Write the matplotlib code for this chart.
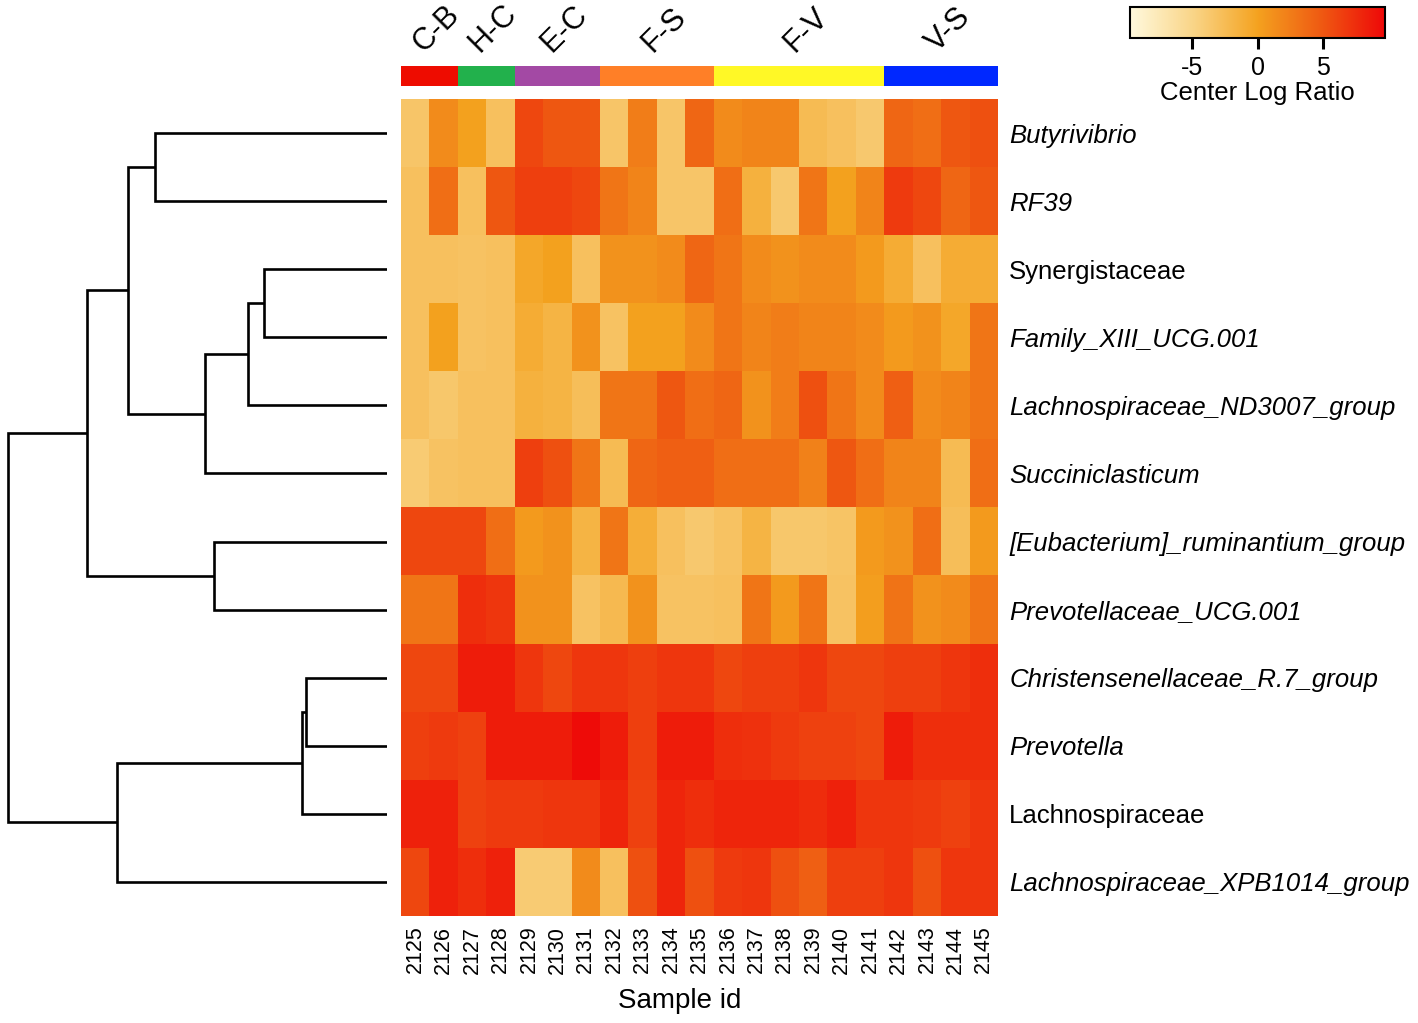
import numpy as np
import matplotlib
matplotlib.use("Agg")
import matplotlib.pyplot as plt
from matplotlib.colors import LinearSegmentedColormap
from matplotlib.transforms import blended_transform_factory

plt.rcParams['font.family'] = ['Liberation Sans', 'DejaVu Sans']
plt.rcParams['axes.unicode_minus'] = False

samples = [str(s) for s in range(2125, 2146)]
taxa = ['Butyrivibrio', 'RF39', 'Synergistaceae', 'Family_XIII_UCG.001',
        'Lachnospiraceae_ND3007_group', 'Succiniclasticum',
        '[Eubacterium]_ruminantium_group', 'Prevotellaceae_UCG.001',
        'Christensenellaceae_R.7_group', 'Prevotella', 'Lachnospiraceae',
        'Lachnospiraceae_XPB1014_group']
italic = [True, True, False, True, True, True, True, True, True, True, False, True]

groups = ['C-B', 'H-C', 'E-C', 'F-S', 'F-V', 'V-S']
group_sizes = [2, 2, 3, 4, 6, 4]
group_colors = ['#EE0C00', '#22B14C', '#A349A4', '#FF7F27', '#FFF826', '#0028FF']

clr = np.array([
    [-3.5, 1.5, 0.0, -3.0, 6.0, 5.0, 5.0, -3.5, 2.5, -3.5, 4.0, 1.5, 2.0, 2.0, -2.5, -3.0, -3.8, 4.0, 3.5, 5.0, 5.5],
    [-3.0, 3.5, -3.0, 5.0, 6.5, 6.5, 6.0, 3.0, 2.0, -3.5, -3.5, 3.5, -1.5, -3.8, 3.0, 0.0, 2.0, 6.8, 6.0, 4.0, 5.0],
    [-3.0, -3.0, -3.2, -3.0, -0.5, 0.0, -3.0, 1.0, 1.0, 1.5, 4.0, 3.0, 1.5, 1.0, 1.5, 1.5, 0.5, -1.0, -3.0, -1.0, -1.0],
    [-3.0, 0.0, -3.2, -3.0, -1.0, -1.8, 1.0, -3.2, 0.0, 0.0, 1.5, 3.0, 2.0, 2.5, 2.0, 2.0, 1.5, 0.5, 1.0, -0.5, 3.0],
    [-3.0, -3.6, -3.0, -3.0, -1.5, -1.8, -2.8, 3.0, 3.0, 5.0, 3.5, 4.0, 1.0, 2.5, 5.5, 3.0, 1.5, 4.5, 1.5, 2.0, 3.0],
    [-4.0, -3.2, -3.0, -3.0, 6.5, 5.5, 3.0, -2.5, 4.0, 4.5, 4.5, 3.5, 3.5, 3.5, 2.2, 5.0, 3.5, 2.0, 2.0, -2.5, 3.5],
    [6.0, 6.0, 6.0, 3.5, 0.5, 1.0, -1.8, 3.0, -1.2, -3.0, -3.8, -3.2, -1.8, -3.6, -3.6, -3.3, 0.5, 1.0, 3.5, -2.8, 0.5],
    [3.0, 3.0, 7.5, 7.0, 1.0, 1.0, -3.2, -2.3, 1.0, -3.2, -3.2, -3.0, 3.0, 0.5, 3.0, -3.2, 0.3, 3.2, 1.0, 1.5, 3.0],
    [6.0, 6.0, 8.5, 8.5, 7.0, 6.0, 7.0, 7.0, 6.5, 7.0, 7.0, 6.0, 6.5, 6.5, 7.0, 6.0, 6.0, 6.5, 6.5, 7.0, 7.5],
    [6.5, 6.8, 6.3, 8.5, 8.5, 8.5, 9.5, 8.5, 6.5, 8.5, 8.5, 7.5, 7.3, 6.8, 6.3, 6.3, 6.0, 8.5, 7.5, 7.5, 7.5],
    [8.2, 8.2, 6.3, 6.8, 6.8, 7.0, 7.0, 8.0, 6.3, 8.0, 7.5, 8.0, 8.0, 8.0, 7.6, 8.2, 7.0, 7.0, 6.8, 6.3, 7.0],
    [6.0, 8.2, 7.5, 8.2, -4.0, -4.0, 1.5, -3.0, 5.5, 8.0, 5.5, 6.8, 7.0, 5.5, 4.5, 6.5, 6.5, 7.0, 5.5, 7.0, 7.0],
])

# row dendrogram: (left, right, height); ids >= 12 are earlier merges
merges = [
    (0, 1, 23.2),
    (2, 3, 12.3),
    (13, 4, 13.9),
    (14, 5, 18.2),
    (12, 15, 25.9),
    (6, 7, 17.3),
    (16, 17, 30.0),
    (8, 9, 8.1),
    (19, 10, 8.5),
    (20, 11, 27.0),
    (18, 21, 37.9),
]

cmap = LinearSegmentedColormap.from_list(
    'clr', [(0.0, '#FFF9DD'), (0.25, '#F9D486'), (0.5, '#F4A21F'),
            (0.75, '#EF5A12'), (1.0, '#EE0808')])
vmin, vmax = -9.8, 9.8

W, H = 1418, 1023
fig = plt.figure(figsize=(W / 100, H / 100), dpi=100)

def box(x0, y0, x1, y1):
    return [x0 / W, 1 - y1 / H, (x1 - x0) / W, (y1 - y0) / H]

nrow, ncol = clr.shape

# heatmap
ax = fig.add_axes(box(401, 99, 998, 916))
ax.imshow(clr, cmap=cmap, vmin=vmin, vmax=vmax, aspect='auto', interpolation='nearest')
ax.set_xlim(-0.5, ncol - 0.5)
ax.set_ylim(nrow - 0.5, -0.5)
for s in ax.spines.values():
    s.set_visible(False)
ax.set_xticks(range(ncol))
ax.set_xticklabels(samples, rotation=90, fontsize=15.5)
ax.tick_params(axis='x', length=0, pad=7)
ax.yaxis.tick_right()
ax.set_yticks(range(nrow))
ax.set_yticklabels(taxa, fontsize=18.5)
for lab, it in zip(ax.get_yticklabels(), italic):
    lab.set_fontstyle('italic' if it else 'normal')
ax.tick_params(axis='y', length=0, pad=8)
ax.set_xlabel('Sample id', fontsize=20, labelpad=10)
ax.xaxis.label.set_x(0.467)

# group bar
axg = fig.add_axes(box(401, 66, 998, 86))
start = 0
trans = blended_transform_factory(axg.transData, axg.transAxes)
for g, n, c in zip(groups, group_sizes, group_colors):
    axg.axvspan(start - 0.5, start + n - 0.5, color=c, lw=0)
    axg.text(start + (n - 1) / 2 + 0.25, 1.4, g, transform=trans, rotation=45,
             ha='center', va='bottom', fontsize=22)
    start += n
axg.set_xlim(-0.5, ncol - 0.5)
axg.set_ylim(0, 1)
axg.axis('off')

# dendrogram
axd = fig.add_axes(box(0, 99, 387, 916))
pos = {i: float(i) for i in range(nrow)}
hgt = {i: 0.0 for i in range(nrow)}
for k, (a, b, h) in enumerate(merges):
    node = nrow + k
    axd.plot([hgt[a], h, h, hgt[b]], [pos[a], pos[a], pos[b], pos[b]],
             color='black', lw=1.9, solid_capstyle='butt', solid_joinstyle='miter')
    pos[node] = (pos[a] + pos[b]) / 2
    hgt[node] = h
axd.set_xlim(38.7, 0)
axd.set_ylim(nrow - 0.5, -0.5)
axd.axis('off')

# colorbar
cax = fig.add_axes(box(1130, 7, 1385, 38))
sm = plt.cm.ScalarMappable(cmap=cmap, norm=plt.Normalize(vmin, vmax))
cb = fig.colorbar(sm, cax=cax, orientation='horizontal')
cb.set_ticks([-5, 0, 5])
cb.ax.tick_params(labelsize=18, length=8, width=2.2, pad=5)
cb.outline.set_linewidth(1.5)
cb.set_label('Center Log Ratio', fontsize=18.5, labelpad=1)

fig.savefig('out.png', dpi=100)
